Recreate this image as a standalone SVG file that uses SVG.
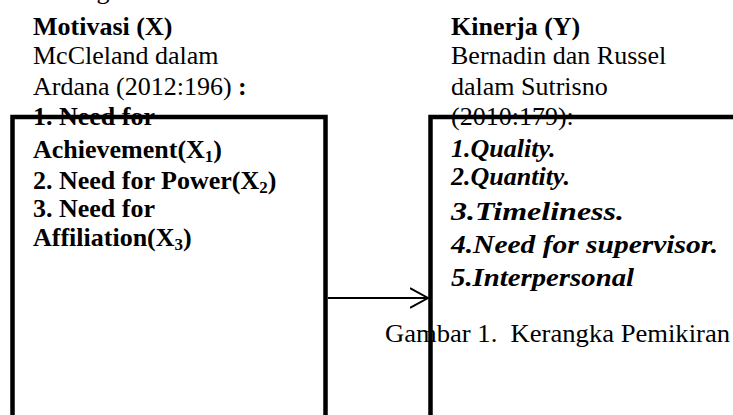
<svg xmlns="http://www.w3.org/2000/svg" width="733" height="415" viewBox="0 0 733 415">
<style>
text{font-family:"Liberation Serif",serif;fill:#000;font-size:26px}
.b{font-weight:bold}
.bi{font-weight:bold;font-style:italic}
.box{fill:none;stroke:#000;stroke-width:4.5}
.conn{stroke:#000;stroke-width:2;fill:none}
</style>
<defs>
<marker id="arr" markerWidth="20" markerHeight="24" refX="18" refY="11" orient="auto" markerUnits="userSpaceOnUse">
<path d="M0,1 L18,11 L0,21" fill="none" stroke="#000" stroke-width="2"/>
</marker>
</defs>
<text x="33" y="-1">Kerangka Pemikiran</text>
<g id="motivasi">
<text x="33" y="35" class="b">Motivasi (X)</text>
<text x="33" y="64">McCleland dalam</text>
<text x="33" y="95">Ardana (2012:196) <tspan class="b">:</tspan></text>
<text x="33" y="125" class="b">1. Need for</text>
<text x="33" y="158" class="b">Achievement(X<tspan font-size="17" dy="4">1</tspan><tspan dy="-4">)</tspan></text>
<text x="33" y="189" class="b">2. Need for Power(X<tspan font-size="17" dy="4">2</tspan><tspan dy="-4">)</tspan></text>
<text x="33" y="217" class="b">3. Need for</text>
<text x="33" y="246" class="b">Affiliation(X<tspan font-size="17" dy="4">3</tspan><tspan dy="-4">)</tspan></text>
<path class="box" d="M12.5,420 V117 H325.5 V420"/>
</g>
<g id="kinerja">
<text x="451" y="35" class="b">Kinerja (Y)</text>
<text x="451" y="64">Bernadin dan Russel</text>
<text x="451" y="95">dalam Sutrisno</text>
<text x="451" y="125">(2010:179):</text>
<text x="451" y="157" class="bi">1.Quality.</text>
<text x="451" y="185" class="bi">2.Quantity.</text>
<text x="451" y="220" class="bi" font-size="32" textLength="173" lengthAdjust="spacingAndGlyphs">3.Timeliness.</text>
<text x="451" y="253" class="bi" font-size="31" textLength="267" lengthAdjust="spacingAndGlyphs">4.Need for supervisor.</text>
<text x="451" y="286" class="bi" font-size="30" textLength="183" lengthAdjust="spacingAndGlyphs">5.Interpersonal</text>
<path class="box" d="M430.5,420 V117 H740"/>
</g>
<g id="caption">
<text x="385" y="342" xml:space="preserve" style="white-space:pre" textLength="345" lengthAdjust="spacingAndGlyphs">Gambar 1.  Kerangka Pemikiran</text>
</g>
<g id="connectors">
<line class="conn" x1="328" y1="298" x2="428" y2="298" marker-end="url(#arr)"/>
</g>
</svg>
